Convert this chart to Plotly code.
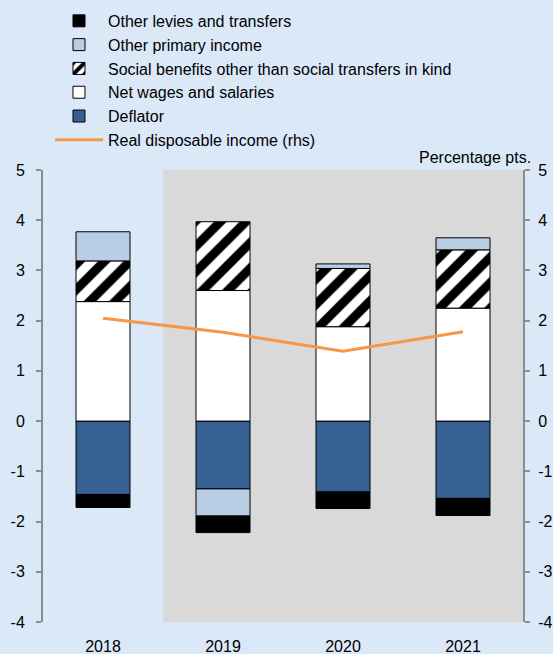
import plotly.graph_objects as go

years = ["2018", "2019", "2020", "2021"]
deflator = [-1.46, -1.35, -1.41, -1.54]
net_wages = [2.38, 2.60, 1.88, 2.25]
social_benefits = [0.81, 1.37, 1.16, 1.16]
other_primary = [0.58, -0.54, 0.09, 0.24]
other_levies = [-0.26, -0.33, -0.33, -0.34]
real_disp_income = [2.05, 1.77, 1.39, 1.78]
y_ticks = [-4, -3, -2, -1, 0, 1, 2, 3, 4, 5]
y_tick_text = ["-4", "-3", "-2", "-1", "0", "1", "2", "3", "4", "5"]

BG = "#DBE8F8"
GRAY = "#D9D9D9"
AX = "#8C8C8C"
FONT = "Liberation Sans, Arial, sans-serif"
FS = 16

fig = go.Figure()
bw = 0.45
line_style = dict(color="black", width=1)

fig.add_trace(go.Bar(x=years, y=deflator, name="Deflator", width=bw,
                     marker=dict(color="#376092", line=line_style), legendrank=5))
fig.add_trace(go.Bar(x=years, y=net_wages, name="Net wages and salaries", width=bw,
                     marker=dict(color="white", line=line_style), legendrank=4))
fig.add_trace(go.Bar(x=years, y=social_benefits, name="Social benefits other than social transfers in kind",
                     width=bw,
                     marker=dict(color="white", line=line_style,
                                 pattern=dict(shape="/", fgcolor="#000000", bgcolor="white",
                                              fgopacity=1, fillmode="replace",
                                              size=18, solidity=0.5)), legendrank=3))
fig.add_trace(go.Bar(x=years, y=other_primary, name="Other primary income", width=bw,
                     marker=dict(color="#B9CDE5", line=line_style), legendrank=2))
fig.add_trace(go.Bar(x=years, y=other_levies, name="Other levies and transfers", width=bw,
                     marker=dict(color="black", line=line_style), legendrank=1))
fig.add_trace(go.Scatter(x=years, y=real_disp_income, name="Real disposable income (rhs)",
                         mode="lines", line=dict(color="#F79646", width=3), yaxis="y2",
                         legendrank=6))

fig.add_shape(type="rect", xref="x", yref="y", x0=0.5, x1=3.5, y0=-4, y1=5,
              fillcolor=GRAY, line=dict(width=0), layer="below")

fig.update_layout(
    width=553, height=654,
    barmode="relative",
    paper_bgcolor=BG, plot_bgcolor=BG,
    font=dict(family=FONT, size=FS, color="black"),
    margin=dict(l=43, r=30, t=170, b=32, autoexpand=False),
    showlegend=True,
    legend=dict(xref="container", yref="container", x=0.0904, y=0.994,
                xanchor="left", yanchor="top",
                bgcolor="rgba(0,0,0,0)", font=dict(size=FS), itemwidth=48,
                tracegroupgap=0, traceorder="normal"),
    xaxis=dict(type="category", range=[-0.5, 3.5], showline=False, showgrid=False,
               zeroline=False, ticks="", tickfont=dict(size=FS), ticklabelstandoff=13,
               automargin=False),
    xaxis2=dict(overlaying="x", anchor="free", position=4/9, range=[-0.5, 3.5],
                tickvals=[0.5, 1.5, 2.5], ticks="outside", ticklen=5, tickwidth=2,
                tickcolor=AX, showticklabels=False, showline=True, linecolor=AX,
                linewidth=2, showgrid=False, zeroline=False, layer="above traces",
                automargin=False),
    yaxis=dict(range=[-4, 5], tickvals=y_ticks, ticktext=y_tick_text, showgrid=False,
               zeroline=False, showline=True, linecolor=AX, linewidth=2, ticks="outside",
               ticklen=5, tickwidth=1.5, tickcolor=AX, tickfont=dict(size=FS),
               ticklabelstandoff=8, automargin=False),
    yaxis2=dict(range=[-4, 5], tickvals=y_ticks, ticktext=y_tick_text, overlaying="y",
                side="right", showgrid=False, zeroline=False, showline=True, linecolor=AX,
                linewidth=2, ticks="outside", ticklen=5, tickwidth=1.5, tickcolor=AX,
                tickfont=dict(size=FS), ticklabelstandoff=5, automargin=False),
)

fig.add_annotation(text="Percentage pts.", xref="paper", yref="paper", x=1.02, y=1.0,
                   xanchor="right", yanchor="bottom", showarrow=False,
                   font=dict(size=FS), yshift=2)

fig.write_html("out.html", config={"displayModeBar": False},
               post_script="document.body.style.margin='0px';document.body.style.padding='0px';")
